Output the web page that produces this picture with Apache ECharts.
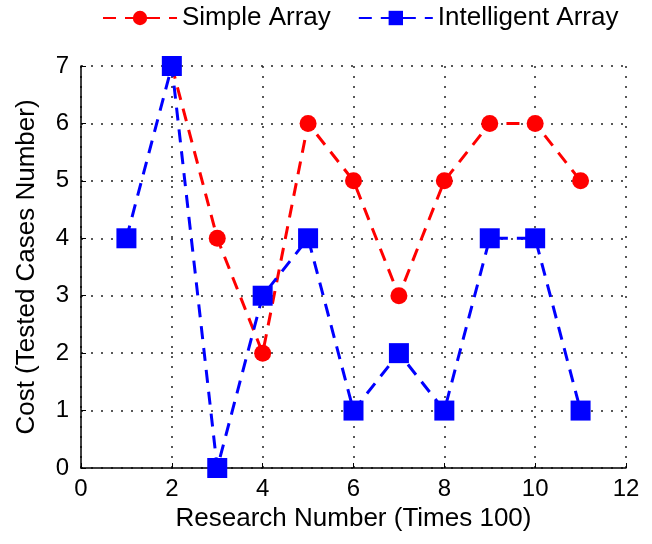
<!DOCTYPE html>
<html><head><meta charset="utf-8">
<script src="https://cdn.jsdelivr.net/npm/echarts@6/dist/echarts.min.js"></script>
<style>html,body{margin:0;padding:0;background:#fff}#c{width:652px;height:544px}</style>
</head><body><div id="c"></div>
<script>
var simpleX = [2,3,4,5,6,7,8,9,10,11];
var simpleY = [7,4,2,6,5,3,5,6,6,5];
var intelX = [1,2,3,4,5,6,7,8,9,10,11];
var intelY = [4,7,0,3,4,1,2,1,4,4,1];
var xTicks = [0,2,4,6,8,10,12];
var yTicks = [0,1,2,3,4,5,6,7];

function pairs(xs, ys){ return xs.map(function(x,i){return [x, ys[i]];}); }
var F = '"Liberation Sans", Arial, sans-serif';
var FS = 26, TFS = 24;
var chart = echarts.init(document.getElementById('c'));
chart.setOption({
  animation:false,
  backgroundColor:'#fff',
  legend:{
    top:0, left:97, width:560, itemGap:27, itemWidth:74, itemHeight:18,
    textStyle:{fontFamily:F, fontSize:FS, color:'#000'},
    data:['Simple Array','Intelligent Array']
  },
  grid:{left:81, right:26, top:66, bottom:76, containLabel:false},
  xAxis:{
    type:'value', min:0, max:12, interval:2,
    name:'Research Number (Times 100)', nameLocation:'middle', nameGap:38,
    nameTextStyle:{fontFamily:F, fontSize:FS, color:'#000'},
    axisLine:{show:true, onZero:false, lineStyle:{color:'#000', width:1.5}},
    axisTick:{show:true, inside:true, length:5, lineStyle:{color:'#000'}},
    axisLabel:{fontFamily:F, fontSize:TFS, color:'#000', margin:9,
      formatter:function(v){return xTicks.indexOf(v)>=0?String(v):'';}},
    splitLine:{show:true, lineStyle:{color:'#222', type:[2,8], width:1.5}}
  },
  yAxis:{
    type:'value', min:0, max:7, interval:1,
    name:'Cost (Tested Cases Number)', nameLocation:'middle', nameGap:41,
    nameTextStyle:{fontFamily:F, fontSize:FS, color:'#000'},
    axisLine:{show:true, onZero:false, lineStyle:{color:'#000', width:1.5}},
    axisTick:{show:true, inside:true, length:5, lineStyle:{color:'#000'}},
    axisLabel:{fontFamily:F, fontSize:TFS, color:'#000', margin:12,
      formatter:function(v){return yTicks.indexOf(v)>=0?String(v):'';}},
    splitLine:{show:true, lineStyle:{color:'#222', type:[2,8], width:1.5}}
  },
  series:[
    {name:'Simple Array', type:'line', data:pairs(simpleX, simpleY),
     symbol:'circle', symbolSize:17, clip:false,
     lineStyle:{color:'#ff0000', width:3, type:[13,9]},
     itemStyle:{color:'#ff0000'}},
    {name:'Intelligent Array', type:'line', data:pairs(intelX, intelY),
     symbol:'rect', symbolSize:20, clip:false,
     lineStyle:{color:'#0000ff', width:3, type:[13,9]},
     itemStyle:{color:'#0000ff'}}
  ]
});
</script></body></html>
